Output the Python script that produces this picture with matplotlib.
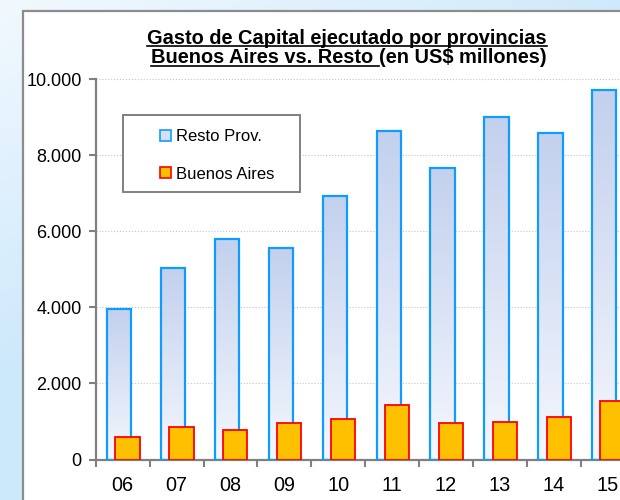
import numpy as np
import matplotlib.pyplot as plt
import matplotlib.colors as mcolors
from matplotlib.patches import Rectangle
from matplotlib.lines import Line2D
from matplotlib.ticker import FuncFormatter

years = ['06', '07', '08', '09', '10', '11', '12', '13', '14', '15']
resto = [3950, 5040, 5800, 5560, 6920, 8650, 7680, 9010, 8600, 9730]
buenos_aires = [600, 850, 780, 950, 1060, 1440, 970, 990, 1110, 1550]
series_names = ['Resto Prov.', 'Buenos Aires']
title_1 = 'Gasto de Capital ejecutado por provincias'
title_2a = 'Buenos Aires vs. Resto '
title_2b = '(en US$ millones)'

plt.rcParams['font.family'] = ['Liberation Sans', 'DejaVu Sans']

W, H = 620, 500
fig = plt.figure(figsize=(W / 100, H / 100), dpi=100)


def fx(px):
    return px / W


def fy(py):
    return 1 - py / H


# background gradient + white chart box
bg = fig.add_axes([0, 0, 1, 1], zorder=-10)
yy, xx = np.mgrid[0:H, 0:W]
t = np.clip(xx / W * 0.9 + yy / H * 1.3, 0, 1)
light = np.array(mcolors.to_rgb('#f2f9fe'))
blue = np.array(mcolors.to_rgb('#cce8fb'))
img = light + (blue - light) * t[..., None]
bg.imshow(img, extent=[0, 1, 0, 1], origin='upper', aspect='auto')
bg.add_patch(Rectangle((fx(22.7), -0.1), 1.2, fy(10.5) + 0.1,
                       facecolor='white', edgecolor='#8c8c8c', lw=1.6))
bg.set_xlim(0, 1)
bg.set_ylim(0, 1)
bg.axis('off')

# main axes
ax = fig.add_axes([fx(95.7), fy(459.5), 539 / W, (459.5 - 79.3) / H])
ax.set_facecolor('none')
x = np.arange(len(years))
bw = 0.45

bars_r = ax.bar(x - 0.064, resto, bw, facecolor='none', edgecolor='#109cff',
                lw=1.6, zorder=3)
grad = np.linspace(0, 1, 100)[:, None, None]
top_c = np.array(mcolors.to_rgb('#c3d1ee'))
bot_c = np.array(mcolors.to_rgb('#f4f7fd'))
grad_img = top_c + (bot_c - top_c) * grad
for b in bars_r:
    x0, w_, h_ = b.get_x(), b.get_width(), b.get_height()
    im = ax.imshow(grad_img, extent=[x0, x0 + w_, 0, h_], origin='upper',
                   aspect='auto', zorder=2)
    im.set_clip_path(b)

ax.bar(x + 0.09, buenos_aires, bw, color='#ffc000', edgecolor='#ff0000',
       lw=1.3, zorder=4)

ax.set_xlim(-0.5, len(years) - 0.5)
ax.set_ylim(0, 10000)
ax.set_yticks(range(0, 10001, 2000))
ax.yaxis.set_major_formatter(FuncFormatter(lambda v, p: f'{v:,.0f}'.replace(',', '.')))
ax.set_xticks(x)
ax.set_xticklabels(years)
ax.set_xticks(np.arange(-0.5, len(years), 1), minor=True)
ax.tick_params(axis='x', which='major', length=0, pad=12, labelsize=14.3)
ax.tick_params(axis='x', which='minor', length=5, width=1.5, color='#808080')
ax.tick_params(axis='y', length=5, width=1.5, color='#808080', pad=5, labelsize=13)
ax.grid(axis='y', color='#c4c4c4', ls=':', lw=0.8, zorder=0)
ax.set_axisbelow(True)
for s in ['top', 'right']:
    ax.spines[s].set_visible(False)
for s in ['left', 'bottom']:
    ax.spines[s].set_color('#808080')
    ax.spines[s].set_linewidth(1.6)

# legend
fig.add_artist(Rectangle((fx(123.3), fy(191.7)), (300 - 123.3) / W, (191.7 - 115) / H,
                         transform=fig.transFigure, facecolor='white',
                         edgecolor='#808080', lw=1.4))
leg_style = [('#d6e0f4', '#109cff', 135), ('#ffc000', '#ff0000', 172.5)]
for name, (fc, ec, cy) in zip(series_names, leg_style):
    fig.add_artist(Rectangle((fx(160), fy(cy + 5.5)), 11 / W, 11 / H,
                             transform=fig.transFigure, facecolor=fc,
                             edgecolor=ec, lw=1.2))
    fig.text(fx(176), fy(cy + 6.5), name, fontsize=12, va='baseline', ha='left')

# title with underlines
tsize = 14.4
t1 = fig.text(fx(347), fy(43.5), title_1, fontsize=tsize, fontweight='bold',
              ha='center', va='baseline')
t2a = fig.text(0, fy(63), title_2a, fontsize=tsize, fontweight='bold',
               ha='left', va='baseline')
t2b = fig.text(0, fy(63), title_2b, fontsize=tsize, fontweight='bold',
               ha='left', va='baseline')
fig.canvas.draw()
r = fig.canvas.get_renderer()
w2a = t2a.get_window_extent(r).width
w2b = t2b.get_window_extent(r).width
start = 349 - (w2a + w2b) / 2
t2a.set_x(fx(start))
t2b.set_x(fx(start + w2a))
fig.canvas.draw()
for tt, base in [(t1, 43.5), (t2a, 63)]:
    bb = tt.get_window_extent(r)
    fig.add_artist(Line2D([bb.x0 / W, bb.x1 / W], [fy(base + 2.8)] * 2,
                          transform=fig.transFigure, color='black', lw=1.2))

fig.savefig('out.png', dpi=100)
